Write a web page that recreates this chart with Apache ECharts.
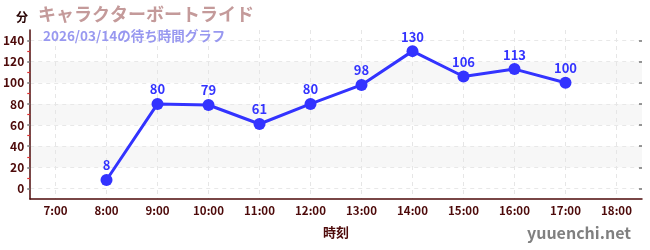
<!DOCTYPE html>
<html><head><meta charset="utf-8">
<script src="https://cdn.jsdelivr.net/npm/echarts@6/dist/echarts.min.js"></script>
<style>html,body{margin:0;padding:0;background:#fff}#c{width:650px;height:250px}</style>
</head><body><div id="c"></div>
<script>
const hours = ['7:00','8:00','9:00','10:00','11:00','12:00','13:00','14:00','15:00','16:00','17:00','18:00'];
const waits = [null, 8, 80, 79, 61, 80, 98, 130, 106, 113, 100, null];
const yTicks = [0, 20, 40, 60, 80, 100, 120, 140];

const FONT = '"Noto Sans CJK JP", "Noto Sans", sans-serif';
const MAROON = '#4d0a0a';
const yMin = -10, yMax = 150;
const gTop = 30, gBottom = 51, gLeft = 30, gRight = 8;
const pxPerUnit = (250 - gTop - gBottom) / (yMax - yMin);
const innerTop = gTop + (yMax - yTicks[yTicks.length-1]) * pxPerUnit;
const innerBottom = gBottom + (yTicks[0] - yMin) * pxPerUnit;
const band = (650 - gLeft - gRight) / hours.length;

const chart = echarts.init(document.getElementById('c'), null, {renderer: 'canvas'});
chart.setOption({
  animation: false,
  textStyle: {fontFamily: FONT},
  title: [
    {text: 'キャラクターボートライド', left: 33, top: 0, textStyle: {fontSize: 18, fontWeight: 'bold', color: '#c49a9a', fontFamily: FONT}},
    {text: '2026/03/14の待ち時間グラフ', left: 38, top: 24, textStyle: {fontSize: 13.5, fontWeight: 'bold', color: '#9898f0', fontFamily: FONT}},
    {text: '分', left: 11, top: 6, textStyle: {fontSize: 12, fontWeight: 'bold', color: '#2a0505', fontFamily: FONT}},
    {text: 'yuuenchi.net', right: 14, top: 220, textStyle: {fontSize: 16, fontWeight: 'bold', color: '#808080', fontFamily: FONT}}
  ],
  grid: [
    {left: gLeft, right: gRight, top: gTop, bottom: gBottom},
    {left: gLeft, right: gRight, top: innerTop, bottom: innerBottom},
    {left: gLeft + band / 2, right: gRight + band / 2, top: gTop, bottom: gBottom}
  ],
  xAxis: [
    {type: 'category', gridIndex: 0, data: hours, boundaryGap: true,
     name: '時刻', nameLocation: 'middle', nameGap: 27,
     nameTextStyle: {fontSize: 13, fontWeight: 'bold', color: MAROON, fontFamily: FONT},
     axisLine: {onZero: false, lineStyle: {color: MAROON, width: 1.5}},
     axisTick: {alignWithLabel: true, length: 3, lineStyle: {color: '#777', width: 1.5}},
     axisLabel: {fontSize: 11.5, fontWeight: 'bold', color: MAROON, margin: 6, fontFamily: FONT},
     splitLine: {show: false}},
    {type: 'category', gridIndex: 0, data: hours, boundaryGap: true, position: 'bottom',
     axisLine: {show: false, onZero: false},
     axisTick: {alignWithLabel: true, inside: true, length: 2, lineStyle: {color: '#777', width: 1.5}},
     axisLabel: {show: false}, splitLine: {show: false}},
    {type: 'category', gridIndex: 1, data: hours, show: false},
    {type: 'category', gridIndex: 2, data: hours, boundaryGap: false,
     axisLine: {show: false}, axisTick: {show: false}, axisLabel: {show: false},
     splitLine: {show: true, lineStyle: {color: '#e6e6e6', type: [4, 4]}}}
  ],
  yAxis: [
    {type: 'value', gridIndex: 0, min: yMin, max: yMax,
     axisLine: {show: true, lineStyle: {color: MAROON, width: 1.5}},
     axisTick: {show: false}, axisLabel: {show: false}, splitLine: {show: false}},
    {type: 'value', gridIndex: 1, min: yTicks[0], max: yTicks[yTicks.length-1], interval: 20,
     axisLine: {show: false},
     axisTick: {show: true, length: 3, lineStyle: {color: '#777', width: 1.5}},
     minorTick: {show: true, splitNumber: 2, length: 3, lineStyle: {color: '#e03030', width: 1.2}},
     axisLabel: {fontSize: 12, fontWeight: 'bold', color: MAROON, margin: 6, fontFamily: FONT},
     splitLine: {show: true, lineStyle: {color: '#e8e8e8', type: [4, 4]}},
     splitArea: {show: true, areaStyle: {color: ['rgba(0,0,0,0)', 'rgba(0,0,0,0.03)']}}},
    {type: 'value', gridIndex: 1, min: yTicks[0], max: yTicks[yTicks.length-1], interval: 20,
     axisLine: {show: false},
     axisTick: {show: true, inside: true, length: 3, lineStyle: {color: '#777', width: 1.5}},
     axisLabel: {show: false}, splitLine: {show: false}},
    {type: 'value', gridIndex: 2, min: yMin, max: yMax, show: false, splitLine: {show: false}}
  ],
  series: [{
    type: 'line', xAxisIndex: 0, yAxisIndex: 0, data: waits, z: 5,
    symbol: 'circle', symbolSize: 12, connectNulls: false,
    lineStyle: {color: '#3333ff', width: 3},
    itemStyle: {color: '#3333ff'},
    label: {show: true, position: 'top', distance: 2, fontSize: 13, fontWeight: 'bold', color: '#3333ff', fontFamily: FONT}
  }]
});
</script></body></html>
